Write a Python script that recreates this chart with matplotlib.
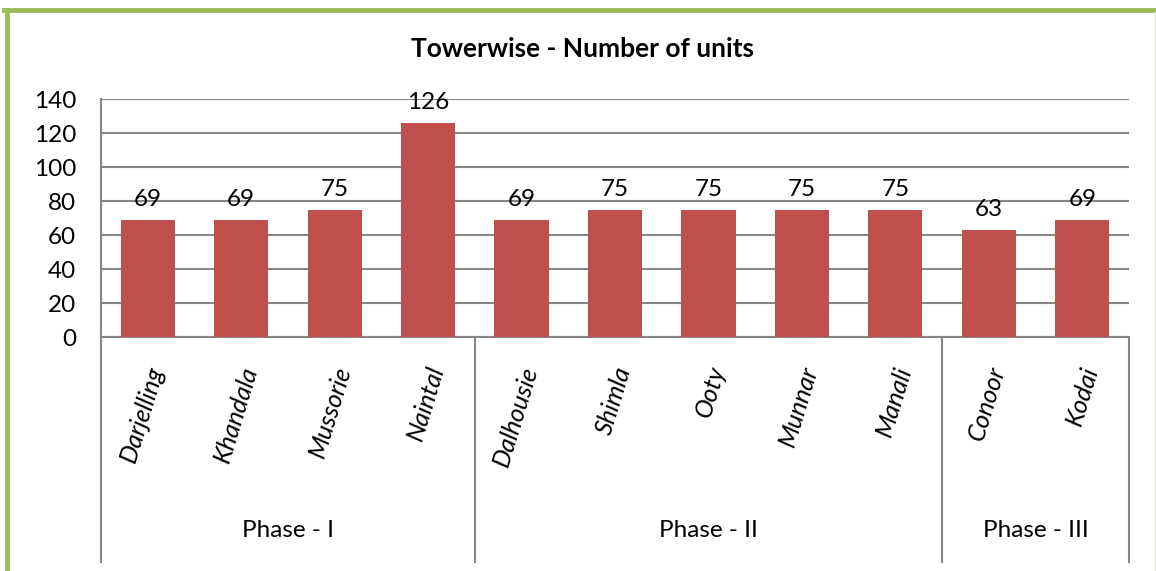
import matplotlib.pyplot as plt
from matplotlib.lines import Line2D

plt.rcParams['font.family'] = ['Lato', 'DejaVu Sans']

towers = ['Darjelling', 'Khandala', 'Mussorie', 'Naintal', 'Dalhousie', 'Shimla',
          'Ooty', 'Munnar', 'Manali', 'Conoor', 'Kodai']
units = [69, 69, 75, 126, 69, 75, 75, 75, 75, 63, 69]
phases = ['Phase - I', 'Phase - II', 'Phase - III']
phase_sizes = [4, 5, 2]

W, H = 1156, 571
fig = plt.figure(figsize=(W / 100, H / 100), dpi=100)
ax = fig.add_axes([101 / W, 1 - 337 / H, (1129 - 101) / W, (337 - 99) / H])

x = list(range(len(towers)))
bars = ax.bar(x, units, width=0.58, color='#C0504D', zorder=3)
ax.bar_label(bars, padding=7, fontsize=17.5)

ax.set_xlim(-0.5, len(towers) - 0.5)
ax.set_ylim(0, 140)
ax.set_yticks(range(0, 141, 20))
ax.tick_params(axis='y', length=0, labelsize=17.5, pad=18)
ax.set_xticks([])
ax.grid(axis='y', color='#868686', linewidth=1.5, zorder=0)
for s in ['top', 'right']:
    ax.spines[s].set_visible(False)
for s in ['left', 'bottom']:
    ax.spines[s].set_color('#868686')
    ax.spines[s].set_linewidth(1.5)

tr = ax.get_xaxis_transform()
for i, name in enumerate(towers):
    ax.text(i + 0.1, -0.125, name, transform=tr, rotation=73, rotation_mode='anchor',
            ha='right', va='center', fontsize=18, style='italic')

# phase separators and labels
bounds = [-0.5]
for n in phase_sizes:
    bounds.append(bounds[-1] + n)
for b in bounds:
    ax.add_line(Line2D([b, b], [0, -0.945], transform=tr, color='#868686',
                       linewidth=1.5, clip_on=False))
for k, p in enumerate(phases):
    mid = (bounds[k] + bounds[k + 1]) / 2
    ax.text(mid, -0.815, p, transform=tr, ha='center', va='center', fontsize=17.5)

fig.text(582 / W, 1 - 49 / H, 'Towerwise - Number of units', ha='center', va='center',
         fontsize=19, fontweight='bold')

# green frame
fig.add_artist(Line2D([4 / W, 1], [1 - 10 / H, 1 - 10 / H], color='#9BBB59', linewidth=3.5))
fig.add_artist(Line2D([6.5 / W, 6.5 / W], [0, 1 - 10 / H], color='#9BBB59', linewidth=3.5))
fig.add_artist(Line2D([1154.5 / W, 1154.5 / W], [0, 1 - 12 / H], color='#E4EAD4', linewidth=1))

fig.savefig('out.png', dpi=100)
